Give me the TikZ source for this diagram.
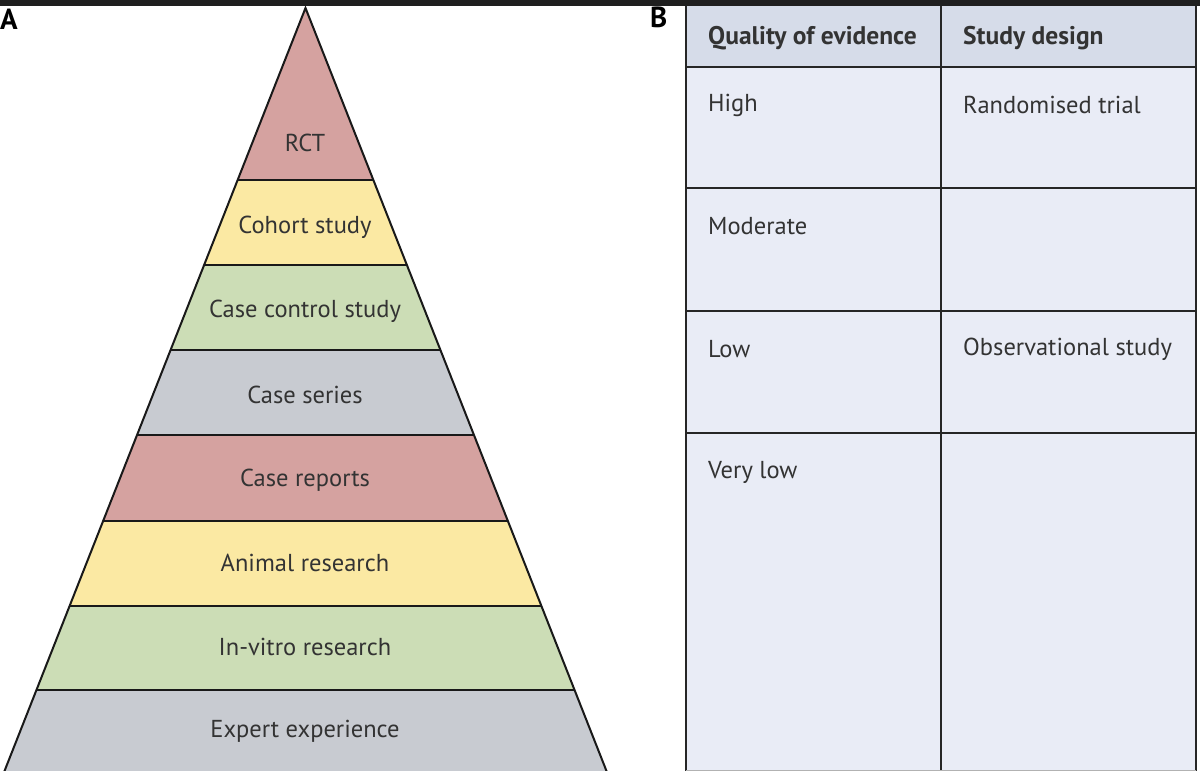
\documentclass[tikz,border=0pt]{standalone}
\usepackage{fontspec}
\setmainfont{PT Sans}
\definecolor{pinkband}{HTML}{D5A2A0}
\definecolor{yellowband}{HTML}{FBE9A3}
\definecolor{greenband}{HTML}{CCDDB6}
\definecolor{grayband}{HTML}{C8CBD1}
\definecolor{tablebody}{HTML}{E9ECF6}
\definecolor{tablehead}{HTML}{D6DCE9}
\definecolor{txt}{HTML}{333333}
\newcommand{\pyrband}[3]{% top y, bottom y, colour
  \pgfmathsetmacro{\pyrht}{(#1-8)/2.54}
  \pgfmathsetmacro{\pyrhb}{(#2-8)/2.54}
  \fill[#3] ({305.5-\pyrht},#1) -- ({305.5+\pyrht},#1) -- ({305.5+\pyrhb},#2) -- ({305.5-\pyrhb},#2) -- cycle;
}
\begin{document}
\begin{tikzpicture}[x=1pt,y=-1pt,
  outline/.style={draw=black!90,line width=2pt,line join=miter},
  grid/.style={draw=black!85,line width=2.6pt},
  bandlabel/.style={text=txt,font=\fontsize{24.5}{28}\selectfont,inner sep=0pt},
  celltext/.style={text=txt,font=\fontsize{24.5}{28}\selectfont,inner sep=0pt,anchor=west},
  headtext/.style={text=txt,font=\fontsize{25.5}{28}\selectfont\bfseries,inner sep=0pt,anchor=west},
  panel/.style={text=black,font=\fontsize{29}{30}\selectfont\bfseries,inner sep=0pt}]
\useasboundingbox (0,0) rectangle (1200,771);
\fill[white] (0,0) rectangle (1200,771);
% top bar
\fill[black!88] (0,0) rectangle (1200,6);
% pyramid bands
\pyrband{8}{180}{pinkband}
\pyrband{180}{265}{yellowband}
\pyrband{265}{350}{greenband}
\pyrband{350}{435}{grayband}
\pyrband{435}{521}{pinkband}
\pyrband{521}{606}{yellowband}
\pyrband{606}{690}{greenband}
\pyrband{690}{771}{grayband}
% boundaries
\foreach \yy in {180,265,350,435,521,606,690}{
  \pgfmathsetmacro{\pyrhh}{(\yy-8)/2.54}
  \draw[outline] ({305.5-\pyrhh},\yy) -- ({305.5+\pyrhh},\yy);
}
\coordinate (apex) at (305.5,8);
\coordinate (bl) at (-3.0,790);
\coordinate (br) at (614.0,790);
\draw[outline] (bl) -- (apex) -- (br);
% labels
\node[bandlabel] (rct) at (305,143) {RCT};
\node[bandlabel] (coh) at (305,227) {Cohort study};
\node[bandlabel] (cc) at (305,311) {Case control study};
\node[bandlabel] (cs) at (305,395) {Case series};
\node[bandlabel] (cr) at (305,480) {Case reports};
\node[bandlabel] (ar) at (305,563) {Animal research};
\node[bandlabel] (iv) at (305,647) {In-vitro research};
\node[bandlabel] (ee) at (305,731) {Expert experience};
\node[panel,anchor=north west] (pA) at (0,9) {A};
\node[panel,anchor=north west] (pB) at (650,7) {B};
% table
\fill[tablehead] (686,6) rectangle (1196,67);
\fill[tablebody] (686,67) rectangle (1196,771);
\draw[grid] (686,6) -- (686,771);
\draw[grid] (941,6) -- (941,771);
\draw[grid] (1196,6) -- (1196,771);
\foreach \yy in {67,188,311,433}{
  \draw[grid] (686,\yy) -- (1196,\yy);
}
\draw[black!30,line width=1pt] (686,770.5) -- (1196,770.5);
\node[headtext] (h1) at (708,38) {Quality of evidence};
\node[headtext] (h2) at (963,38) {Study design};
\node[celltext] (q1) at (708,105) {High};
\node[celltext] (q2) at (708,226) {Moderate};
\node[celltext] (q3) at (708,349) {Low};
\node[celltext] (q4) at (708,472) {Very low};
\node[celltext] (d1) at (963,105) {Randomised trial};
\node[celltext] (d3) at (963,349) {Observational study};
\end{tikzpicture}
\end{document}
